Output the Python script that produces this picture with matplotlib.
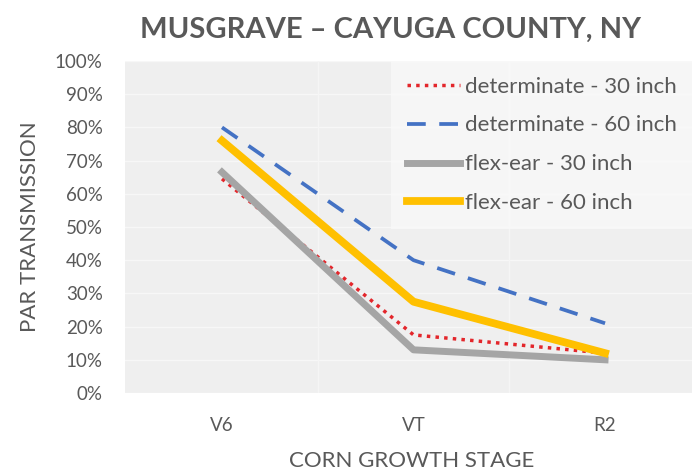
import numpy as np
import matplotlib
matplotlib.use("Agg")
import matplotlib.pyplot as plt
from matplotlib.ticker import PercentFormatter

plt.rcParams['font.family'] = ['Lato', 'DejaVu Sans']

# data (percent transmission)
stages = ["V6", "VT", "R2"]
det_30 = [64.5, 17.5, 12.0]
det_60 = [80.0, 40.0, 21.0]
flex_30 = [66.5, 13.0, 10.0]
flex_60 = [76.0, 27.5, 12.0]
y_ticks = [0, 10, 20, 30, 40, 50, 60, 70, 80, 90, 100]

TXT = "#595959"

fig = plt.figure(figsize=(6.92, 4.72), dpi=100)
ax = fig.add_axes([125 / 692, 79 / 472, 567 / 692, 332 / 472])
ax.set_facecolor("#efefef")

x = np.arange(len(stages))
ax.plot(x, det_30, color="#e3262b", lw=2.5, ls=(0, (1, 1.5)), label="determinate - 30 inch")
ax.plot(x, det_60, color="#4472c4", lw=2.7, ls=(0, (5.0, 3.6)), label="determinate - 60 inch")
ax.plot(x, flex_30, color="#a5a5a5", lw=5.0, label="flex-ear - 30 inch")
ax.plot(x, flex_60, color="#ffc000", lw=5.6, label="flex-ear - 60 inch")

ax.set_xlim(-0.5065, 2.454)
ax.set_ylim(0, 100)
ax.set_xticks(x)
ax.set_xticklabels(stages)
ax.set_yticks(y_ticks)
ax.yaxis.set_major_formatter(PercentFormatter(decimals=0))

# faint grid like the Excel original
for yv in y_ticks:
    ax.axhline(yv, color="#f7f7f7", lw=1, zorder=0)
for xv in [0.5, 1.5]:
    ax.axvline(xv, color="#f5f5f5", lw=1, zorder=0)

for s in ax.spines.values():
    s.set_visible(False)
ax.tick_params(length=0, colors=TXT, labelsize=13.5)
ax.tick_params(axis="y", pad=16)
ax.tick_params(axis="x", pad=17)

ax.set_ylabel("PAR TRANSMISSION", color=TXT, fontsize=16)
ax.yaxis.set_label_coords(-0.15, 0.5)
ax.set_xlabel("CORN GROWTH STAGE", color=TXT, fontsize=16)
ax.xaxis.set_label_coords(0.506, -0.175)

fig.text(0.565, 0.92, "MUSGRAVE \u2013 CAYUGA COUNTY, NY", ha="center", va="baseline",
         color=TXT, fontsize=21, fontweight="bold")

leg = ax.legend(loc="upper right", bbox_to_anchor=(1.0, 1.0), frameon=True, fontsize=16,
                handlelength=2.4, handletextpad=0.2, labelspacing=0.85, borderaxespad=0.0,
                borderpad=0.7)
leg.get_frame().set_facecolor("#f9f9f9")
leg.get_frame().set_edgecolor("none")
leg.get_frame().set_boxstyle("square", pad=0)
for t in leg.get_texts():
    t.set_color(TXT)

fig.savefig("out.png", dpi=100)
